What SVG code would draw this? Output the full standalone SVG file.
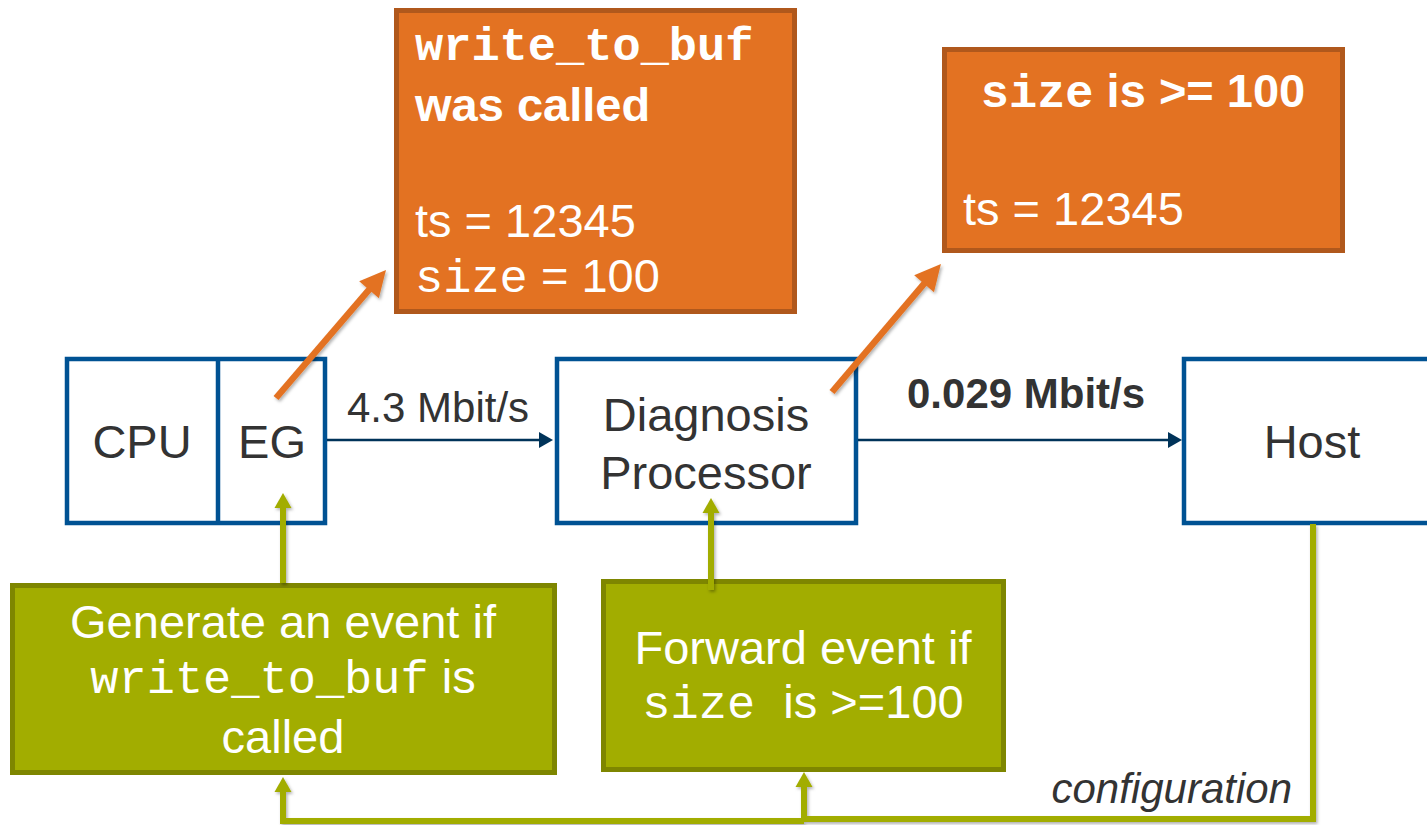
<svg xmlns="http://www.w3.org/2000/svg" width="1427" height="825" viewBox="0 0 1427 825">
  <style>
    .sans { font-family: "Liberation Sans", Arial, sans-serif; }
    .mono { font-family: "Liberation Mono", "Courier New", monospace; }
    .blk { fill: #FFFFFF; stroke: #005293; stroke-width: 4.5; }
    .evt { fill: #E37222; stroke: #B0581C; stroke-width: 5; }
    .cfg { fill: #A2AD00; stroke: #7E8600; stroke-width: 5; }
    .dark { fill: #333333; }
    .white { fill: #FFFFFF; }
    .big { font-size: 47px; }
    .mid { font-size: 42px; }
    .data { fill: none; stroke: #003359; stroke-width: 2.5; }
    .trace { fill: none; stroke: #E37222; stroke-width: 6.5; }
    .ctrl { fill: none; stroke: #A2AD00; stroke-width: 6; }
  </style>
  <defs>
    <filter id="shadow" x="-20%" y="-20%" width="140%" height="140%">
      <feDropShadow dx="1.5" dy="2" stdDeviation="1.5" flood-color="#000000" flood-opacity="0.3"/>
    </filter>
    <marker id="navyHead" markerUnits="userSpaceOnUse" markerWidth="16" markerHeight="18" refX="0" refY="8" orient="auto" overflow="visible">
      <path d="M0,0 L14,8 L0,16 z" fill="#003359"/>
    </marker>
    <marker id="orangeHead" markerUnits="userSpaceOnUse" markerWidth="30" markerHeight="30" refX="0" refY="0" orient="auto" overflow="visible">
      <path d="M-11,-13 L15,0 L-11,13 z" fill="#E37222"/>
    </marker>
    <marker id="greenHead" markerUnits="userSpaceOnUse" markerWidth="18" markerHeight="18" refX="0" refY="0" orient="auto" overflow="visible">
      <path d="M0,-8.5 L15,0 L0,8.5 z" fill="#A2AD00"/>
    </marker>
  </defs>

  <!-- processing blocks -->
  <g id="cpu-eg">
    <rect class="blk" x="67" y="359" width="258" height="164"/>
    <line x1="218" y1="359" x2="218" y2="523" stroke="#005293" stroke-width="4.5"/>
    <text class="sans big dark" x="142" y="458" text-anchor="middle">CPU</text>
    <text class="sans big dark" x="272" y="458" text-anchor="middle">EG</text>
  </g>
  <g id="diagnosis-processor">
    <rect class="blk" x="557" y="359" width="299" height="164"/>
    <text class="sans big dark" x="706" y="431" text-anchor="middle">Diagnosis</text>
    <text class="sans big dark" x="706" y="489" text-anchor="middle">Processor</text>
  </g>
  <g id="host">
    <rect class="blk" x="1184" y="359" width="300" height="164"/>
    <text class="sans big dark" x="1312" y="458" text-anchor="middle">Host</text>
  </g>

  <!-- event records -->
  <g id="event-raw">
    <rect class="evt" x="396.5" y="10.5" width="398" height="301"/>
    <text class="mono white" x="415" y="60" font-size="47" font-weight="bold">write_to_buf</text>
    <text class="sans big white" x="415" y="121" font-weight="bold">was called</text>
    <text class="sans big white" x="415" y="237">ts = 12345</text>
    <text class="white big" x="415" y="292"><tspan class="mono">size</tspan><tspan class="sans"> = 100</tspan></text>
  </g>
  <g id="event-filtered">
    <rect class="evt" x="944.5" y="49.5" width="398" height="201"/>
    <text class="white big" x="1143" y="107" text-anchor="middle" font-weight="bold"><tspan class="mono">size</tspan><tspan class="sans"> is &gt;= 100</tspan></text>
    <text class="sans big white" x="963" y="225">ts = 12345</text>
  </g>

  <!-- configuration rules -->
  <g id="rule-generate">
    <rect class="cfg" x="12.5" y="585.5" width="542" height="187"/>
    <text class="sans big white" x="283" y="638" text-anchor="middle">Generate an event if</text>
    <text class="white big" x="283" y="693" text-anchor="middle"><tspan class="mono">write_to_buf</tspan><tspan class="sans"> is</tspan></text>
    <text class="sans big white" x="283" y="753" text-anchor="middle">called</text>
  </g>
  <g id="rule-forward">
    <rect class="cfg" x="603.5" y="581.5" width="400" height="188"/>
    <text class="sans big white" x="803" y="664" text-anchor="middle">Forward event if</text>
    <text class="white big" x="803" y="718" text-anchor="middle"><tspan class="mono">size </tspan><tspan class="sans">is &gt;=100</tspan></text>
  </g>

  <!-- connectors -->
  <g id="connectors">
    <line class="data" x1="327" y1="440" x2="539" y2="440" marker-end="url(#navyHead)"/>
    <line class="data" x1="858" y1="440" x2="1168" y2="440" marker-end="url(#navyHead)"/>
    <line x1="1028" y1="418" x2="1028" y2="463" stroke="#0F3A5F" stroke-width="7" filter="url(#shadow)"/>

    <line class="trace" x1="276" y1="398" x2="376.2" y2="281.4" marker-end="url(#orangeHead)" filter="url(#shadow)"/>
    <line class="trace" x1="832" y1="392" x2="931.2" y2="275.4" marker-end="url(#orangeHead)" filter="url(#shadow)"/>

    <g filter="url(#shadow)">
      <line class="ctrl" x1="283" y1="583" x2="283" y2="508" marker-end="url(#greenHead)"/>
      <line class="ctrl" x1="711" y1="590" x2="711" y2="513" marker-end="url(#greenHead)"/>
      <path class="ctrl" d="M1313,524 V819 H804 V787" marker-end="url(#greenHead)"/>
      <path class="ctrl" d="M804,821 H283 V792" marker-end="url(#greenHead)"/>
    </g>

    <text class="sans mid dark" x="907" y="408" font-weight="bold">0.029 Mbit/s</text>
    <text class="sans mid dark" x="347" y="422">4.3 Mbit/s</text>
    <text class="sans mid dark" x="1292" y="803" text-anchor="end" font-style="italic">configuration</text>
  </g>
</svg>
